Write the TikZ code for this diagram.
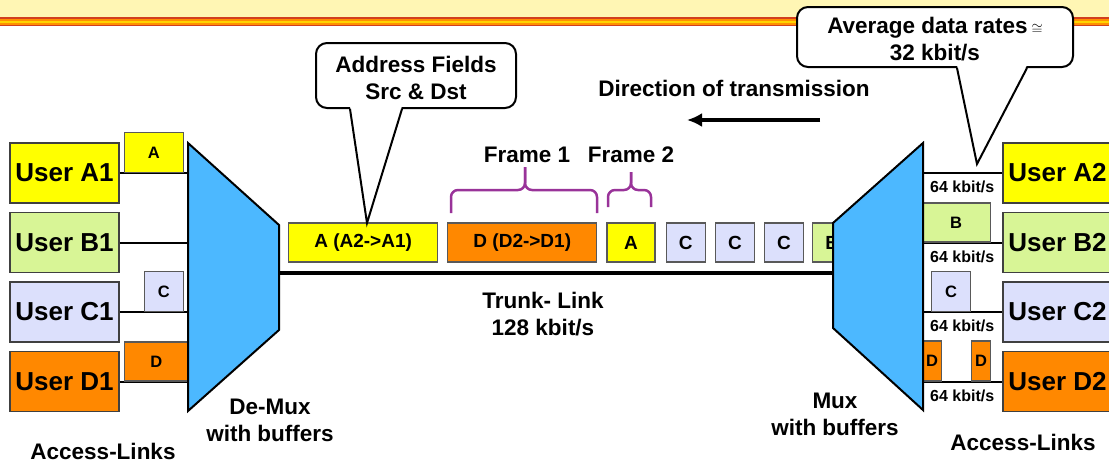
\documentclass[tikz,border=0pt]{standalone}
\usepackage{fontspec}
\setmainfont{Liberation Sans}
\usetikzlibrary{%
  arrows,%
  arrows.meta,%
  calc,%
  positioning% wg. " of "
}
\definecolor{usryellow}{HTML}{FFFF00}
\definecolor{usrgreen}{HTML}{D8F596}
\definecolor{usrlilac}{HTML}{DCE0FC}
\definecolor{usrorange}{HTML}{FF8800}
\definecolor{muxblue}{HTML}{4CB8FF}
\definecolor{framepurple}{HTML}{993399}
\definecolor{bandyellow}{HTML}{FFF6B4}
\definecolor{bandred}{HTML}{D2401E}
\definecolor{bandorange}{HTML}{FF9000}
\definecolor{bandgold}{HTML}{FFD400}

\begin{document}
\begin{tikzpicture}[x=1pt,y=-1pt,node distance=69.5pt]
       \tikzset{user/.style={rectangle, minimum width=109pt, minimum height=60pt, inner sep=0pt,
                draw=black!75, line width=1.5pt, font=\bfseries\fontsize{26}{30}\selectfont}}

       \tikzset{packet/.style={rectangle, minimum height=40pt, inner sep=0pt,
                draw=black!65, line width=1.2pt, font=\bfseries\fontsize{16.5}{18}\selectfont}}

       \tikzset{trunkpkt/.style={packet, minimum height=39pt, font=\bfseries\fontsize{19}{20}\selectfont}}

       \tikzset{note/.style={align=center, font=\bfseries\fontsize{22.5}{27}\selectfont}}
       \tikzset{rate/.style={font=\bfseries\fontsize{16}{18}\selectfont}}
       \tikzset{mux/.style={draw, line width=2pt, fill=muxblue, line join=miter}}
       \tikzset{link/.style={line width=2pt}}
       \tikzset{brace/.style={draw=framepurple, line width=2.5pt, rounded corners=7pt}}
       \tikzset{bubble/.style={rectangle, rounded corners=11pt, draw, line width=2pt, fill=white,
                align=center, inner sep=0pt, font=\bfseries\fontsize{22.5}{27}\selectfont}}

       \useasboundingbox (0,0) rectangle (1109,463);

       % title band
       \fill[bandyellow] (0,0) rectangle (1109,17);
       \fill[bandred] (0,17) rectangle (1109,26);
       \fill[bandorange] (0,18.5) rectangle (1109,24.5);
       \fill[bandgold] (0,20.5) rectangle (1109,22.5);

       % users, left side
       \node[user, fill=usryellow] (ua1) at (64.5,173) {User A1};
       \node[user, fill=usrgreen, below of = ua1] (ub1) {User B1};
       \node[user, fill=usrlilac, below of = ub1] (uc1) {User C1};
       \node[user, fill=usrorange, below of = uc1] (ud1) {User D1};

       % users, right side
       \node[user, fill=usryellow] (ua2) at (1057.5,173) {User A2};
       \node[user, fill=usrgreen, below of = ua2] (ub2) {User B2};
       \node[user, fill=usrlilac, below of = ub2] (uc2) {User C2};
       \node[user, fill=usrorange, below of = uc2] (ud2) {User D2};

       % De-Mux and Mux corners
       \coordinate (dmx1) at (188,143);
       \coordinate (dmx2) at (279,225);
       \coordinate (dmx3) at (279,330);
       \coordinate (dmx4) at (188,411);
       \coordinate (mx1) at (923,143);
       \coordinate (mx2) at (833,223);
       \coordinate (mx3) at (833,328);
       \coordinate (mx4) at (923,410);

       % access links
       \draw[link](ua1.east) -- (ua1.east -| dmx1);
       \draw[link](ub1.east) -- (ub1.east -| dmx1);
       \draw[link](uc1.east) -- (uc1.east -| dmx1);
       \draw[link](ud1.east) -- (ud1.east -| dmx1);
       \draw[link](ua2.west) -- (ua2.west -| mx1);
       \draw[link](ub2.west) -- (ub2.west -| mx1);
       \draw[link](uc2.west) -- (uc2.west -| mx1);
       \draw[link](ud2.west) -- (ud2.west -| mx1);

       % packets on the access links
       \node[packet, fill=usryellow, minimum width=59pt, above right=0pt and 4pt of ua1.east] (pa1) {A};
       \node[packet, fill=usrlilac, minimum width=39pt, above right=0pt and 24pt of uc1.east] (pc1) {C};
       \node[packet, fill=usrorange, minimum width=64pt, minimum height=39pt, above right=0pt and 4pt of ud1.east] (pd1) {D};
       \node[packet, fill=usrgreen, minimum width=69pt, minimum height=39pt, above left=0pt and 11pt of ub2.west] (pb2) {B};
       \node[packet, fill=usrlilac, minimum width=39pt, above left=0pt and 31pt of uc2.west] (pc2) {C};
       \node[packet, fill=usrorange, minimum width=19pt, above left=0pt and 11pt of ud2.west] (pd2) {D};
       \node[packet, fill=usrorange, minimum width=19pt, above left=0pt and 60pt of ud2.west] (pd3) {D};

       \node[rate] (ra2) at ($(ua2.west)+(-40,14)$) {64 kbit/s};
       \node[rate] (rb2) at ($(ub2.west)+(-40,14)$) {64 kbit/s};
       \node[rate] (rc2) at ($(uc2.west)+(-40,14)$) {64 kbit/s};
       \node[rate] (rd2) at ($(ud2.west)+(-40,14)$) {64 kbit/s};

       % trunk link and its frames
       \coordinate (trunkL) at (279,273);
       \coordinate (trunkR) at (833,273);
       \draw[line width=4pt](trunkL) -- (trunkR);

       \node[trunkpkt, fill=usryellow, minimum width=149pt, anchor=west] (fa1) at (288,242.5) {A (A2->A1)};
       \node[trunkpkt, fill=usrorange, minimum width=149pt, right=9pt of fa1] (fd1) {D (D2->D1)};
       \node[trunkpkt, fill=usryellow, minimum width=48pt, right=9pt of fd1] (fa2) {A};
       \node[trunkpkt, fill=usrlilac, minimum width=39pt, right=10pt of fa2] (fc1) {C};
       \node[trunkpkt, fill=usrlilac, minimum width=39pt, right=9pt of fc1] (fc2) {C};
       \node[trunkpkt, fill=usrlilac, minimum width=39pt, right=9pt of fc2] (fc3) {C};
       \node[trunkpkt, fill=usrgreen, minimum width=39pt, right=8pt of fc3] (fb1) {B};

       \draw[mux] (dmx1) -- (dmx2) -- (dmx3) -- (dmx4) -- cycle;
       \draw[mux] (mx1) -- (mx2) -- (mx3) -- (mx4) -- cycle;

       % frame braces
       \draw[brace] (451,213) -- (451,190) -- (525,190) -- (525,167);
       \draw[brace] (597,213) -- (597,190) -- (525,190) -- (525,167);
       \draw[brace] (608,207) -- (608,190) -- (631,190) -- (631,172);
       \draw[brace] (651,207) -- (651,190) -- (631,190) -- (631,172);
       \node[note] (fr1) at (527,155) {Frame 1};
       \node[note] (fr2) at (631,155) {Frame 2};

       % labels
       \node[note] (trunk) at (543,314) {Trunk- Link\\128 kbit/s};
       \node[note] (dmxlbl) at (270,420) {De-Mux\\with buffers};
       \node[note] (mxlbl) at (835,414) {Mux\\with buffers};
       \node[note] (accl) at (103,451) {Access-Links};
       \node[note] (accr) at (1023,442) {Access-Links};

       % direction
       \node[note] (dir) at (734,88) {Direction of transmission};
       \coordinate (dirR) at (820,120);
       \coordinate (dirL) at (687,120);
       \draw[-{Latex[length=15pt,width=14pt]}, line width=4.5pt](dirR) -- (dirL);

       % callouts
       \node[bubble, minimum width=200pt, minimum height=65pt] (addr) at (416,75.5)
            {\rule{0pt}{22pt}Address Fields\\Src \& Dst};
       \coordinate (addrtip) at (367,223);
       \fill[white] ($(addr.south)+(-66,-3)$) -- (addrtip) -- ($(addr.south)+(-14,-3)$) -- cycle;
       \draw[line width=2pt] ($(addr.south)+(-66,0)$) -- (addrtip) -- ($(addr.south)+(-14,0)$);

       \node[bubble, minimum width=276pt, minimum height=60pt] (avg) at (935,37)
            {\rule{0pt}{21pt}Average data rates\,{\fontsize{14}{14}\selectfont$\cong$}\\32 kbit/s};
       \coordinate (avgtip) at (977,164);
       \fill[white] ($(avg.south)+(22,-3)$) -- (avgtip) -- ($(avg.south)+(92,-3)$) -- cycle;
       \draw[line width=2pt] ($(avg.south)+(22,0)$) -- (avgtip) -- ($(avg.south)+(92,0)$);

\end{tikzpicture}
\end{document}
